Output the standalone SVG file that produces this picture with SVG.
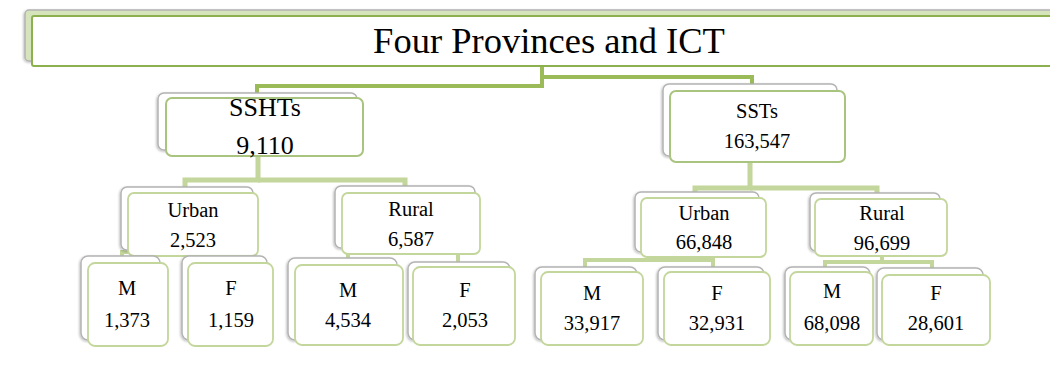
<svg xmlns="http://www.w3.org/2000/svg" width="1050" height="366" viewBox="0 0 1050 366" font-family="Liberation Serif, serif">
<defs>
<filter id="sh" x="-10%" y="-10%" width="120%" height="120%">
<feDropShadow dx="-1" dy="1" stdDeviation="1" flood-color="#000" flood-opacity="0.25"/>
</filter>
</defs>
<style>
.back{fill:#fff;stroke:#b3b3b3;stroke-width:1.5;filter:url(#sh)}
.front{fill:#fff;stroke:#c3d69b;stroke-width:1.8}
.front2{fill:#fff;stroke:#a9c47f;stroke-width:2}
.t{fill:#000;text-anchor:middle;font-size:20.5px}
.c1{fill:none;stroke:#9bbb59;stroke-width:4}
.c2{fill:none;stroke:#c3d69b;stroke-width:5}
.c3{fill:none;stroke:#c3d69b;stroke-width:4}
</style>
<g id="connectors">
<path class="c1" d="M542,66 V86 H257 V95"/>
<path class="c1" d="M542,77 H752 V86" stroke="#a6c36d"/>
<path class="c2" d="M258,156 V180 H185 V192"/>
<path class="c2" d="M258,180 H405 V192"/>
<path class="c2" d="M750,162 V188 H695 V196"/>
<path class="c2" d="M750,188 H877 V196"/>
<path class="c3" d="M193,250 V252 H122 V260"/>
<path class="c3" d="M193,252 H232 V260"/>
<path class="c3" d="M411,248 V251 H348 V266"/>
<path class="c3" d="M411,251 H458 V268"/>
<path class="c3" d="M704,255 V260 H585 V272"/>
<path class="c3" d="M704,260 H713 V272"/>
<path class="c3" d="M882,255 V262 H825 V272"/>
<path class="c3" d="M882,262 H932 V276"/>
</g>
<g id="title">
<rect x="25" y="10" width="1040" height="51" rx="4" fill="#d6e4bc" stroke="#b3b3b3" stroke-width="1.5" filter="url(#sh)"/>
<rect x="32" y="16" width="1030" height="50" rx="2" fill="#fff" stroke="#8db04f" stroke-width="2"/>
<text class="t" x="549" y="53" font-size="36.5" style="font-size:36.5px">Four Provinces and ICT</text>
</g>
<g id="sshts">
<rect class="back" x="158" y="93" width="199" height="57" rx="6"/>
<rect class="front2" x="166" y="98" width="197" height="58" rx="6"/>
<text class="t" x="265" y="116" style="font-size:26px">SSHTs</text>
<text class="t" x="265" y="154" style="font-size:26px">9,110</text>
</g>
<g id="ssts">
<rect class="back" x="663" y="84" width="174" height="72" rx="6"/>
<rect class="front2" x="670" y="91" width="175" height="71" rx="6"/>
<text class="t" x="757" y="118">SSTs</text>
<text class="t" x="757" y="148">163,547</text>
</g>
<g id="urban1">
<rect class="back" x="121" y="187" width="132" height="63" rx="6"/>
<rect class="front" x="128" y="193" width="130" height="63" rx="6"/>
<text class="t" x="193" y="217">Urban</text>
<text class="t" x="193" y="247">2,523</text>
</g>
<g id="rural1">
<rect class="back" x="335" y="186" width="140" height="62" rx="6"/>
<rect class="front" x="342" y="193" width="138" height="61" rx="6"/>
<text class="t" x="411" y="216">Rural</text>
<text class="t" x="411" y="246">6,587</text>
</g>
<g id="m1">
<rect class="back" x="81" y="256" width="79" height="84" rx="7"/>
<rect class="front" x="88" y="263" width="80" height="83" rx="7"/>
<text class="t" x="127" y="295">M</text>
<text class="t" x="127" y="327">1,373</text>
</g>
<g id="f1">
<rect class="back" x="182" y="256" width="85" height="84" rx="7"/>
<rect class="front" x="188" y="263" width="85" height="83" rx="7"/>
<text class="t" x="231" y="295">F</text>
<text class="t" x="231" y="327">1,159</text>
</g>
<g id="m2">
<rect class="back" x="288" y="258" width="109" height="82" rx="7"/>
<rect class="front" x="295" y="265" width="108" height="80" rx="7"/>
<text class="t" x="348" y="297">M</text>
<text class="t" x="348" y="327">4,534</text>
</g>
<g id="f2">
<rect class="back" x="408" y="262" width="102" height="78" rx="7"/>
<rect class="front" x="413" y="267" width="102" height="78" rx="7"/>
<text class="t" x="465" y="297">F</text>
<text class="t" x="465" y="327">2,053</text>
</g>
<g id="urban2">
<rect class="back" x="635" y="192" width="124" height="60" rx="6"/>
<rect class="front" x="641" y="198" width="125" height="59" rx="6"/>
<text class="t" x="704" y="220">Urban</text>
<text class="t" x="704" y="249">66,848</text>
</g>
<g id="rural2">
<rect class="back" x="810" y="193" width="130" height="58" rx="6"/>
<rect class="front" x="815" y="199" width="132" height="57" rx="6"/>
<text class="t" x="882" y="220">Rural</text>
<text class="t" x="882" y="250">96,699</text>
</g>
<g id="m3">
<rect class="back" x="535" y="267" width="102" height="73" rx="7"/>
<rect class="front" x="541" y="272" width="102" height="73" rx="7"/>
<text class="t" x="592" y="300">M</text>
<text class="t" x="592" y="330">33,917</text>
</g>
<g id="f3">
<rect class="back" x="658" y="267" width="106" height="73" rx="7"/>
<rect class="front" x="664" y="272" width="106" height="73" rx="7"/>
<text class="t" x="717" y="300">F</text>
<text class="t" x="717" y="330">32,931</text>
</g>
<g id="m4">
<rect class="back" x="785" y="267" width="85" height="73" rx="7"/>
<rect class="front" x="790" y="272" width="83" height="73" rx="7"/>
<text class="t" x="832" y="298">M</text>
<text class="t" x="832" y="330">68,098</text>
</g>
<g id="f4">
<rect class="back" x="877" y="268" width="106" height="72" rx="7"/>
<rect class="front" x="882" y="275" width="108" height="70" rx="7"/>
<text class="t" x="936" y="300">F</text>
<text class="t" x="936" y="330">28,601</text>
</g>
</svg>
